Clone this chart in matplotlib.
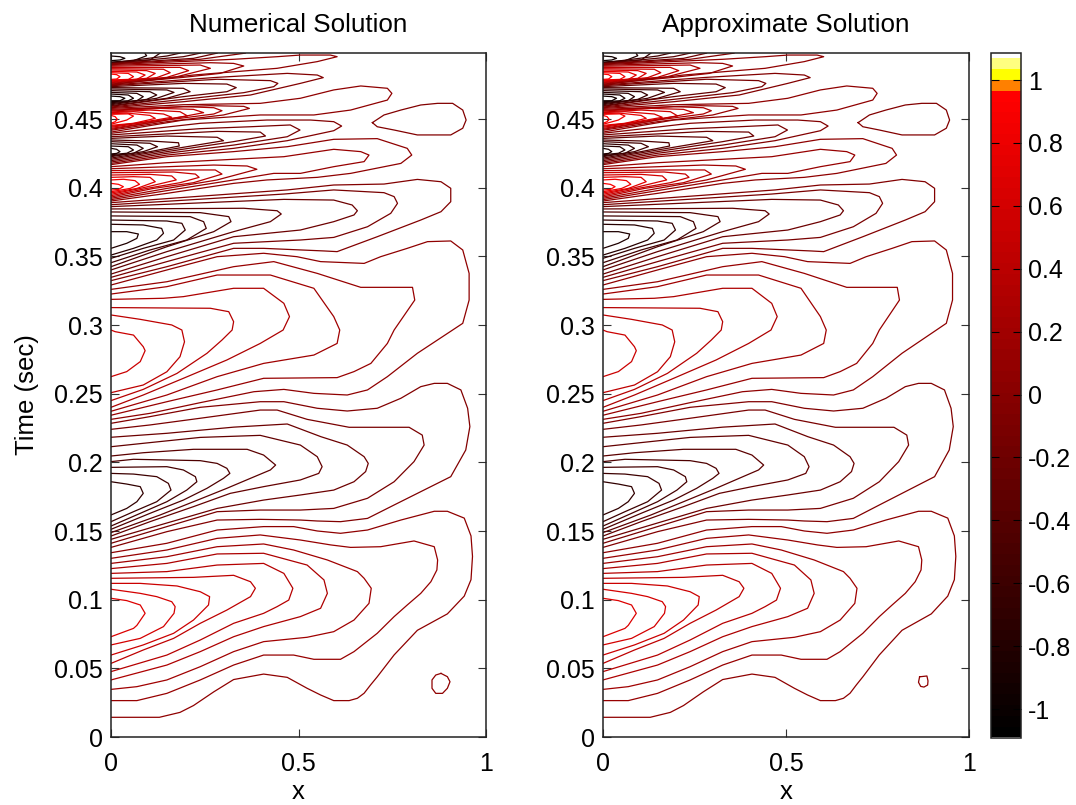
#!/usr/bin/python
# -*- coding: utf-8 -*-
import matplotlib
matplotlib.use("Agg")
import numpy as np
import matplotlib.pyplot as plt
from matplotlib.cm import ScalarMappable
from matplotlib.colors import ListedColormap, Normalize

plt.rcParams['font.family'] = ['Liberation Sans', 'DejaVu Sans']

# contours: (level, [(x, t), ...])
lobe1 = [
    (0.69, [(0,.0733),(.06,.0794),(.069,.0816),(.091,.0904),(.078,.0965),(.042,.0997),(0,.1014)]),
    (0.61, [(0,.0673),(.078,.0721),(.14,.0807),(.168,.0904),(.171,.0953),(.162,.0989),(.122,.1026),(.078,.105),(0,.108)]),
    (0.53, [(0,.0599),(.086,.0673),(.167,.0758),(.22,.0855),(.26,.0965),(.263,.1026),(.238,.1062),(.176,.1104),(.078,.1123),(0,.1123)]),
    (0.45, [(0,.0538),(.086,.0636),(.167,.0721),(.238,.0831),(.309,.0928),(.372,.1026),(.385,.1087),(.372,.1135),(.327,.1182),(.22,.1167),(0,.116)]),
    (0.37, [(0,.0478),(.149,.0599),(.238,.0709),(.327,.0831),(.407,.0904),(.443,.0953),(.474,.1001),(.485,.1087),(.461,.1196),(.407,.1269),(.283,.1257),(.149,.1209),(0,.1196)]),
    (0.29, [(0,.0417),(.149,.0526),(.238,.0624),(.327,.0733),(.407,.0807),(.505,.088),(.559,.0941),(.577,.105),(.568,.1148),(.523,.1257),(.407,.1343),(.283,.1338),(.149,.1269),(0,.1231)]),
    (0.21, [(0,.0348),(.069,.0368),(.149,.0417),(.238,.0514),(.327,.0624),(.407,.0697),(.523,.0729),(.594,.077),(.648,.0855),(.688,.0977),(.694,.1087),(.675,.116),(.657,.1209),(.577,.1294),(.487,.1367),(.407,.1411),(.283,.1391),(.149,.1318),(0,.1269)]),
    (0.13, [(0,.0266),(.069,.0266),(.149,.0319),(.238,.0417),(.327,.0526),(.407,.0599),(.487,.0599),(.541,.0568),(.612,.0568),(.648,.0624),(.71,.0758),(.755,.088),(.79,.0965),(.826,.105),(.853,.1135),(.869,.1221),(.871,.1294),(.862,.1391),(.808,.1433),(.719,.1391),(.639,.1386),(.586,.1404),(.505,.144),(.398,.1477),(.283,.1452),(.149,.1367),(0,.1306)]),
    (0.05, [(0,.0144),(.129,.0144),(.184,.018),(.22,.023),(.274,.033),(.327,.042),(.407,.046),(.47,.0436),(.523,.0356),(.559,.0307),(.594,.0266),(.635,.0266),(.657,.0283),(.675,.032),(.692,.038),(.71,.044),(.755,.06),(.817,.078),(.897,.09),(.942,.103),(.96,.115),(.964,.132),(.96,.147),(.942,.16),(.897,.165),(.862,.165),(.773,.1586),(.684,.1513),(.612,.1489),(.55,.1506),(.487,.1538),(.407,.1538),(.283,.1513),(.149,.1416),(0,.1347)]),
]
lobe2 = [
    (-0.69, [(0,.1623),(.042,.1671),(.069,.172),(.086,.1781),(.078,.183),(.042,.1849),(0,.1866)]),
    (-0.61, [(0,.1574),(.06,.1647),(.122,.172),(.16,.1805),(.153,.1854),(.122,.1903),(.06,.1922),(0,.1927)]),
    (-0.53, [(0,.1542),(.078,.1635),(.149,.172),(.202,.1805),(.229,.1866),(.225,.1903),(.193,.1952),(.149,.1976),(0,.1971)]),
    (-0.45, [(0,.1518),(.104,.1635),(.193,.1732),(.256,.1818),(.3,.1891),(.317,.1927),(.309,.1964),(.283,.2),(.238,.202),(.06,.203),(0,.2013)]),
    (-0.37, [(0,.1494),(.131,.1623),(.22,.172),(.309,.1818),(.372,.1891),(.425,.1952),(.439,.1988),(.407,.2061),(.363,.2103),(.22,.2103),(.086,.2078),(0,.2054)]),
    (-0.29, [(0,.1469),(.104,.1574),(.22,.1684),(.318,.1781),(.407,.183),(.505,.1879),(.554,.1927),(.563,.1976),(.55,.2049),(.505,.2134),(.398,.2205),(.238,.219),(.104,.2152),(0,.2122)]),
    (-0.21, [(0,.1445),(.131,.155),(.283,.1671),(.407,.1732),(.505,.1769),(.594,.1805),(.648,.1866),(.679,.194),(.686,.2),(.675,.2049),(.63,.2134),(.56,.2195),(.47,.2288),(.327,.2265),(.149,.222),(0,.2191)]),
    (-0.13, [(0,.1416),(.149,.1538),(.283,.1647),(.398,.1659),(.505,.1659),(.594,.1671),(.684,.1745),(.755,.1866),(.808,.2013),(.835,.2134),(.83,.2207),(.795,.2264),(.635,.2264),(.523,.2322),(.443,.239),(.398,.239),(.238,.233),(.104,.2281),(0,.2249)]),
    (-0.05, [(0,.1386),(.149,.1501),(.283,.1586),(.398,.1591),(.505,.1586),(.55,.1579),(.612,.1574),(.684,.1598),(.755,.1696),(.817,.1781),(.906,.1903),(.946,.2098),(.957,.2269),(.951,.2403),(.933,.2537),(.897,.2585),(.862,.2585),(.826,.2561),(.773,.2476),(.71,.2403),(.63,.2383),(.55,.2403),(.461,.2451),(.398,.2451),(.238,.241),(.104,.2342),(0,.2293)]),
]
lobe3 = [
    (0.53, [(0,.2634),(.042,.2671),(.078,.2744),(.091,.2824),(.086,.2853),(.06,.2938),(.011,.2963),(0,.2975)]),
    (0.45, [(0,.2517),(.086,.2573),(.149,.267),(.184,.278),(.196,.2889),(.189,.2975),(.162,.3012),(.078,.3053),(0,.3085)]),
    (0.37, [(0,.2459),(.086,.2541),(.176,.2658),(.256,.2805),(.296,.2902),(.323,.2975),(.327,.3036),(.314,.3109),(.265,.3134),(0,.3139)]),
    (0.29, [(0,.241),(.086,.25),(.193,.2622),(.309,.2756),(.398,.2877),(.459,.2975),(.476,.3073),(.461,.317),(.407,.328),(.327,.328),(.193,.3219),(.14,.3207),(0,.3199)]),
    (0.21, [(0,.2381),(.149,.25),(.283,.2634),(.407,.2731),(.541,.2792),(.603,.2877),(.61,.2975),(.594,.3073),(.541,.328),(.425,.3377),(.283,.3377),(.149,.3292),(0,.3238)]),
    (0.13, [(0,.2352),(.149,.2451),(.283,.2537),(.407,.2622),(.603,.2627),(.648,.2671),(.693,.2731),(.737,.2877),(.755,.2975),(.81,.3194),(.804,.3287),(.666,.3287),(.55,.3389),(.434,.3475),(.327,.3438),(.149,.3328),(0,.3272)]),
    (0.05, [(0,.2322),(.104,.2366),(.238,.2444),(.381,.2524),(.461,.2541),(.541,.2512),(.63,.25),(.684,.2537),(.737,.2634),(.817,.2805),(.911,.2975),(.938,.3024),(.955,.3194),(.955,.3389),(.938,.356),(.906,.3626),(.844,.3621),(.79,.3572),(.719,.3511),(.675,.3462),(.559,.3475),(.496,.3511),(.407,.3536),(.283,.3511),(.149,.3414),(0,.3304)]),
]
lobe4 = [
    (-0.85, [(0,.3572),(.042,.3609),(.069,.3645),(.073,.3677),(.042,.3694),(0,.3694)]),
    (-0.75, [(0,.3523),(.06,.3572),(.122,.3633),(.14,.3682),(.135,.3718),(.086,.3743),(0,.3748)]),
    (-0.65, [(0,.3499),(.086,.3572),(.167,.3633),(.198,.3706),(.189,.3755),(.149,.3772),(0,.3779)]),
    (-0.55, [(0,.3467),(.104,.356),(.202,.3633),(.254,.3718),(.247,.3767),(.211,.3804),(0,.3809)]),
    (-0.45, [(0,.3438),(.149,.3584),(.274,.3694),(.32,.3767),(.314,.3804),(.238,.3833),(0,.3838)]),
    (-0.33, [(0,.3414),(.149,.3548),(.327,.3694),(.425,.3767),(.454,.3823),(.443,.3847),(.354,.3865),(0,.3860)]),
    (-0.21, [(0,.3384),(.149,.3511),(.327,.3657),(.505,.3706),(.594,.3767),(.648,.3816),(.657,.3847),(.643,.3889),(.594,.3925),(.461,.393),(0,.3877)]),
    (-0.13, [(0,.336),(.149,.3475),(.327,.3609),(.505,.3633),(.594,.3652),(.684,.373),(.746,.3828),(.764,.3901),(.755,.395),(.728,.3979),(.594,.3999),(.461,.3969),(0,.3891)]),
    (-0.05, [(0,.3336),(.149,.3438),(.327,.3572),(.407,.3572),(.568,.3553),(.603,.3548),(.71,.3657),(.826,.3779),(.88,.384),(.906,.3913),(.906,.4011),(.88,.4059),(.817,.4076),(.728,.4042),(.594,.4035),(.47,.3999),(0,.3906)]),
]
lobe5 = [
    (0.90, [(0,.3998),(.02,.4003),(.033,.4023),(.02,.404),(0,.4047)]),
    (0.80, [(0,.3986),(.051,.401),(.076,.404),(.064,.4067),(.033,.4077),(0,.4072)]),
    (0.70, [(0,.3977),(.069,.401),(.118,.4059),(.104,.4091),(.06,.4096),(0,.4091)]),
    (0.60, [(0,.3967),(.078,.401),(.174,.4072),(.162,.4101),(.104,.4113),(0,.4108)]),
    (0.50, [(0,.3957),(.095,.401),(.184,.4052),(.235,.4091),(.225,.4115),(.167,.413),(0,.4125)]),
    (0.37, [(0,.3947),(.113,.401),(.22,.4052),(.296,.4115),(.278,.4145),(.176,.4145),(0,.414)]),
    (0.21, [(0,.3938),(.149,.401),(.283,.4072),(.389,.415),(.363,.4174),(.274,.4181),(0,.4154)]),
    (0.13, [(0,.3928),(.149,.3994),(.327,.4072),(.434,.412),(.505,.412),(.594,.4169),(.675,.4206),(.688,.4254),(.666,.4279),(.594,.4296),(.461,.4242),(.327,.4223),(.149,.4198),(0,.4169)]),
    (0.05, [(0,.3918),(.149,.3974),(.327,.4047),(.416,.4072),(.55,.4091),(.639,.412),(.773,.4193),(.802,.4254),(.79,.4303),(.71,.4374),(.594,.4369),(.47,.4315),(.327,.4279),(.149,.4242),(0,.4184)]),
]
lobe6 = [
    (-0.85, [(0,.4262),(.015,.4266),(.024,.4279),(.015,.4296),(0,.4303)]),
    (-0.75, [(0,.4257),(.042,.4267),(.06,.4291),(.046,.4315),(0,.432)]),
    (-0.65, [(0,.4249),(.06,.4267),(.086,.4303),(.069,.4327),(0,.4337)]),
    (-0.55, [(0,.4242),(.086,.4279),(.124,.4315),(.104,.434),(0,.4352)]),
    (-0.45, [(0,.4232),(.104,.4279),(.182,.432),(.18,.4344),(.104,.4357),(0,.4364)]),
    (-0.33, [(0,.4223),(.149,.4291),(.3,.4359),(.283,.4384),(.149,.4393),(0,.4376)]),
    (-0.21, [(0,.4213),(.149,.4279),(.327,.4352),(.412,.4393),(.398,.4422),(.283,.4427),(0,.4388)]),
    (-0.13, [(0,.4203),(.149,.4267),(.327,.4327),(.47,.4388),(.504,.4437),(.478,.4474),(.372,.4461),(.238,.4447),(0,.4401)]),
    (-0.05, [(0,.4193),(.149,.4254),(.327,.4303),(.47,.4359),(.594,.4432),(.615,.4466),(.594,.4498),(.532,.451),(.416,.451),(.238,.4486),(0,.4413)]),
]
closed_top = (-0.05, [(.697,.4491),(.728,.4547),(.773,.4583),(.826,.462),(.871,.4632),(.911,.4632),(.938,.4583),(.947,.451),(.938,.445),(.906,.4401),(.817,.4401),(.755,.4437),(.71,.4461),(.697,.4491)])
lobe7 = [
    (0.95, [(0,.4486),(.011,.4498),(.017,.4515),(.011,.4535),(0,.4544)]),
    (0.85, [(0,.4479),(.042,.451),(.06,.4539),(.046,.4555),(0,.4552)]),
    (0.75, [(0,.4471),(.06,.4486),(.118,.4522),(.104,.4544),(.042,.4561),(0,.4556)]),
    (0.65, [(0,.4464),(.078,.4491),(.162,.453),(.14,.4554),(.06,.4571),(0,.4564)]),
    (0.55, [(0,.4457),(.104,.4498),(.204,.454),(.184,.4571),(.104,.4583),(0,.4569)]),
    (0.42, [(0,.4449),(.122,.4498),(.247,.4564),(.22,.4588),(.131,.4595),(0,.4576)]),
    (0.29, [(0,.4442),(.149,.451),(.274,.4554),(.296,.4578),(.274,.46),(.193,.4608),(0,.4581)]),
    (0.13, [(0,.4435),(.149,.4498),(.3,.4547),(.369,.4595),(.354,.461),(.265,.4615),(0,.4588)]),
    (0.05, [(0,.4422),(.193,.451),(.398,.4547),(.541,.4547),(.639,.4583),(.737,.4656),(.749,.4705),(.737,.4742),(.666,.4759),(.594,.473),(.505,.4669),(.398,.4632),(.193,.4622),(0,.4595)]),
]
lobe8 = [
    (-0.95, [(0,.4651),(.024,.4651),(.037,.4669),(.024,.4681),(0,.4685)]),
    (-0.85, [(0,.4644),(.046,.4651),(.06,.4669),(.046,.4693),(0,.47)]),
    (-0.75, [(0,.4637),(.069,.4651),(.086,.4681),(.069,.4705),(0,.4712)]),
    (-0.65, [(0,.4629),(.095,.4661),(.122,.4693),(.104,.4717),(0,.4725)]),
    (-0.55, [(0,.4622),(.122,.4669),(.168,.4712),(.149,.473),(0,.4737)]),
    (-0.42, [(0,.4615),(.149,.4669),(.211,.4717),(.193,.4742),(0,.4747)]),
    (-0.29, [(0,.461),(.193,.4681),(.309,.4717),(.334,.4747),(.309,.4773),(.193,.4778),(0,.4754)]),
    (-0.13, [(0,.4605),(.193,.4661),(.354,.471),(.434,.4754),(.445,.4778),(.425,.4798),(.283,.4808),(0,.4761)]),
    (-0.05, [(0,.46),(.193,.4644),(.372,.4693),(.505,.4778),(.566,.482),(.55,.4839),(.47,.4851),(.283,.4822),(0,.4766)]),
]
lobe9 = [
    (0.95, [(0,.4807),(.015,.481),(.024,.4827),(.015,.4842),(0,.4846)]),
    (0.85, [(0,.4803),(.046,.4807),(.06,.4827),(.046,.4851),(0,.4856)]),
    (0.75, [(0,.4798),(.069,.4807),(.091,.4839),(.069,.4861),(0,.4866)]),
    (0.65, [(0,.4793),(.095,.4815),(.118,.4851),(.095,.4871),(0,.4876)]),
    (0.55, [(0,.4788),(.122,.482),(.158,.4856),(.14,.4881),(0,.4885)]),
    (0.42, [(0,.4783),(.149,.4822),(.207,.4871),(.184,.4895),(0,.4893)]),
    (0.29, [(0,.4778),(.176,.4827),(.265,.4888),(.238,.4912),(0,.4903)]),
    (0.13, [(0,.4773),(.193,.4822),(.291,.4851),(.354,.4905),(.327,.4924),(.265,.4929),(0,.491)]),
    (0.05, [(0,.4768),(.22,.4839),(.443,.4888),(.55,.4937),(.603,.4973),(.585,.4985),(.505,.4985),(.443,.4973),(.327,.4954),(0,.4915)]),
]
lobe10 = [
    (-0.95, [(0,.4944),(.024,.4949),(.037,.4961),(.024,.4973),(0,.4978)]),
    (-0.85, [(0,.4934),(.06,.4944),(.095,.498),(.091,.4995)]),
    (-0.70, [(0,.4929),(.104,.4949),(.131,.4999)]),
    (-0.55, [(0,.4927),(.149,.4978),(.184,.4999)]),
    (-0.40, [(0,.4924),(.193,.4973),(.238,.4999)]),
    (-0.21, [(0,.4922),(.22,.4961),(.283,.4999)]),
    (-0.05, [(0,.492),(.238,.4954),(.358,.4999)]),
]
all_contours = lobe1 + lobe2 + lobe3 + lobe4 + lobe5 + lobe6 + lobe7 + lobe8 + lobe9 + lobe10 + [closed_top]

# the small loop near the bottom right is the one thing that differs
loop_numerical = (0.05, [(.88,.0465),(.897,.0441),(.904,.0404),(.897,.0356),(.884,.0319),(.866,.0319),(.856,.0356),(.856,.0417),(.866,.0453),(.88,.0465)])
loop_approx = (0.05, [(.865,.044),(.885,.0446),(.888,.041),(.887,.038),(.877,.0365),(.868,.037),(.862,.04),(.865,.044)])

titles = ['Numerical Solution', 'Approximate Solution']
time_ticks = [0, 0.05, 0.1, 0.15, 0.2, 0.25, 0.3, 0.35, 0.4, 0.45]
time_labels = ['0', '0.05', '0.1', '0.15', '0.2', '0.25', '0.3', '0.35', '0.4', '0.45']
x_ticks = [0, 0.5, 1]
x_labels = ['0', '0.5', '1']
cbar_ticks = [-1, -0.8, -0.6, -0.4, -0.2, 0, 0.2, 0.4, 0.6, 0.8, 1]
cbar_labels = ['-1', '-0.8', '-0.6', '-0.4', '-0.2', '0', '0.2', '0.4', '0.6', '0.8', '1']
cbar_view = (-1.092, 1.086)

# the time axis stops just short of 0.5; contours above were read as if it reached it
t_top = 0.4982

# black -> red ramp, then the short top end of the map
ramp = [(r, 0, 0) for r in np.linspace(0, 1, 60)]
top_end = ['#ff8000', '#ffff00', '#ffff80', '#ffffff']
cmap = ListedColormap(ramp + top_end)
norm = Normalize(-1.09, 1.103)

W, H = 1076, 805


def px_axes(fig, left, right, top, bottom):
    return fig.add_axes([left / W, (H - bottom) / H, (right - left) / W, (bottom - top) / H])


def style_box(ax):
    for s in ax.spines.values():
        s.set_linewidth(1.1)
        s.set_color('#222222')
    ax.tick_params(direction='in', length=6, width=0.8, color='#333333', top=True, right=True, labelsize=18)
    ax.tick_params(axis='x', pad=11)
    ax.tick_params(axis='y', pad=6)


def draw_panel(ax, contours, title):
    for level, pts in contours:
        xs, ts = zip(*pts)
        ax.plot(xs, np.array(ts) * t_top / 0.5, color=cmap(norm(level)), lw=0.9, solid_joinstyle='round')
    ax.set_xlim(0, 1)
    ax.set_ylim(0, t_top)
    ax.set_xticks(x_ticks)
    ax.set_xticklabels(x_labels)
    ax.set_yticks(time_ticks)
    ax.set_yticklabels(time_labels)
    ax.set_xlabel('x', fontsize=18.5, labelpad=2.5)
    ax.set_title(title, fontsize=18.7, pad=15)
    style_box(ax)


fig = plt.figure(figsize=(W / 100, H / 100), dpi=100)

ax1 = px_axes(fig, 111, 486, 53, 737)
draw_panel(ax1, all_contours + [loop_numerical], titles[0])
ax1.set_ylabel('Time (sec)', fontsize=18.5, labelpad=11)

ax2 = px_axes(fig, 603, 969, 53, 737)
draw_panel(ax2, all_contours + [loop_approx], titles[1])

cax = px_axes(fig, 991, 1021, 53, 738)
cb = fig.colorbar(ScalarMappable(norm=norm, cmap=cmap), cax=cax)
cb.set_ticks(cbar_ticks)
cb.set_ticklabels(cbar_labels)
cax.set_ylim(*cbar_view)
cb.outline.set_linewidth(1.1)
cb.outline.set_edgecolor('#222222')
cax.tick_params(direction='in', length=6, width=0.8, left=True, right=True, labelsize=18, pad=5)

fig.savefig('out.png', dpi=100)
